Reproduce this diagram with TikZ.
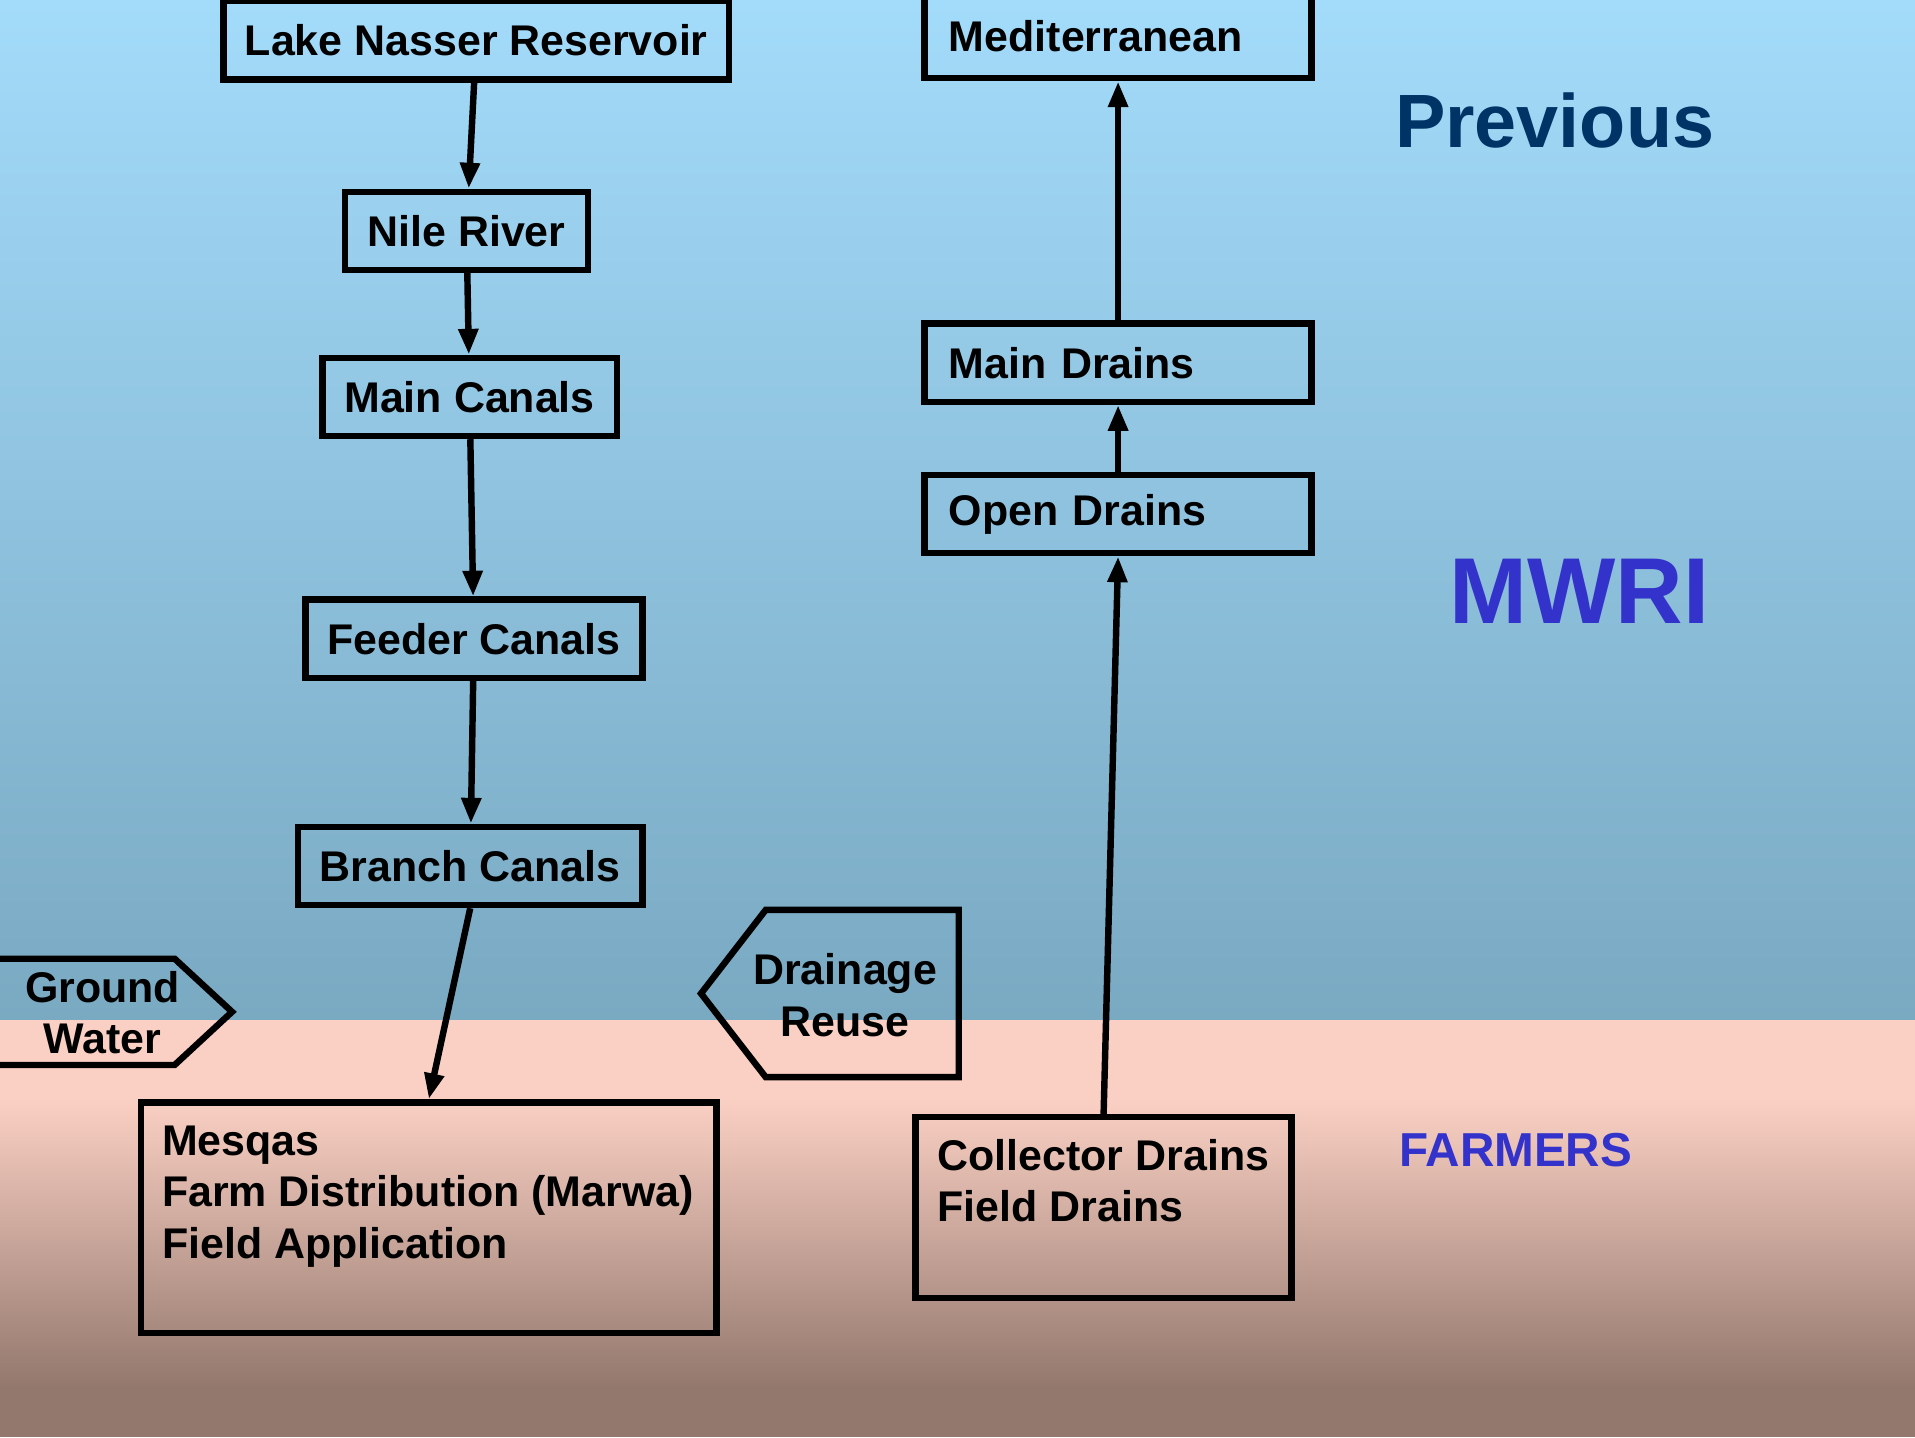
\documentclass[tikz,border=0pt]{standalone}
\usepackage{fontspec}
\setmainfont{Liberation Sans}
\usetikzlibrary{arrows.meta}
\definecolor{skytop}{HTML}{A3DBFA}
\definecolor{skylow}{HTML}{7AA9C2}
\definecolor{soiltop}{HTML}{FBD0C4}
\definecolor{soillow}{HTML}{93786D}
\definecolor{navy}{HTML}{003366}
\definecolor{violet}{HTML}{3333CC}
\tikzset{
	box/.style={draw,line width=1.5pt,inner sep=0pt,minimum height=6.4mm,font=\bfseries\fontsize{10}{12}\selectfont},
	rbox/.style={box,minimum width=31.7mm,text width=27.7mm,align=left},
	txt/.style={inner sep=0pt,font=\bfseries\fontsize{10}{12}\selectfont},
	flow/.style={line width=1.5pt,-{Triangle[length=6pt,width=4.4pt]}}
}
\begin{document}
\begin{tikzpicture}[x=0.1mm,y=-0.1mm]
		\useasboundingbox (0,0) rectangle (1568,1177);
		\clip (0,0) rectangle (1568,1177);
		\shade[top color=skytop,bottom color=skylow] (0,0) rectangle (1568,835);
		\fill[soiltop] (0,835) rectangle (1568,901);
		\shade[top color=soiltop,bottom color=soillow] (0,900) rectangle (1568,1136);
		\fill[soillow] (0,1135) rectangle (1568,1177);
		\node[box,minimum width=41.4mm] (lake) at (390,33) {Lake Nasser Reservoir};
		\node[box,minimum width=19.9mm] (nile) at (382,189) {Nile River};
		\node[box,minimum width=24.1mm] (maincanals) at (384.5,325) {Main Canals};
		\node[box,minimum width=27.6mm] (feeder) at (388,523) {Feeder Canals};
		\node[box,minimum width=28.2mm] (branch) at (385,709) {Branch Canals};
		\node[box,anchor=north west,minimum width=47.1mm,minimum height=18.9mm] (mesqas) at (113,900) {};
		\node[txt,anchor=north west,align=left] (mesqastxt) at (132,921) {Mesqas\\Farm Distribution (Marwa)\\Field Application};
		\node[rbox,minimum height=6.8mm] (med) at (915.5,30) {Mediterranean};
		\node[rbox] (maindrains) at (915.5,297) {Main Drains};
		\node[rbox] (open) at (915.5,421) {Open Drains};
		\node[box,anchor=north west,minimum width=30.8mm,minimum height=14.8mm] (collector) at (747,912) {};
		\node[txt,anchor=north west,align=left] (collectortxt) at (767,932) {Collector Drains\\Field Drains};
		\draw[line width=1.5pt] (-10,785) -- (143,785) -- (190,828.5) -- (143,872) -- (-10,872) -- cycle;
		\node[txt,align=center] (ground) at (84,829) {Ground\\Water};
		\draw[line width=1.5pt] (785,745) -- (627,745) -- (574,813.5) -- (627,882) -- (785,882) -- cycle;
		\node[txt,align=center] (reuse) at (692,815) {Drainage\\Reuse};
		\draw[flow] (lake) -- (nile);
		\draw[flow] (nile) -- (maincanals);
		\draw[flow] (maincanals) -- (feeder);
		\draw[flow] (feeder) -- (branch);
		\draw[flow] (branch.south) -- (mesqas.north);
		\draw[flow] (collector.north) -- (open.south);
		\draw[flow] (open) -- (maindrains);
		\draw[flow] (maindrains) -- (med);
		\node[navy,font=\bfseries\fontsize{17.6}{20}\selectfont] (previous) at (1273,99) {Previous};
		\node[violet,font=\bfseries\fontsize{21.8}{24}\selectfont] (mwri) at (1293,484) {MWRI};
		\node[violet,font=\bfseries\fontsize{11.1}{13}\selectfont] (farmers) at (1241,942) {FARMERS};
	\end{tikzpicture}
\end{document}
